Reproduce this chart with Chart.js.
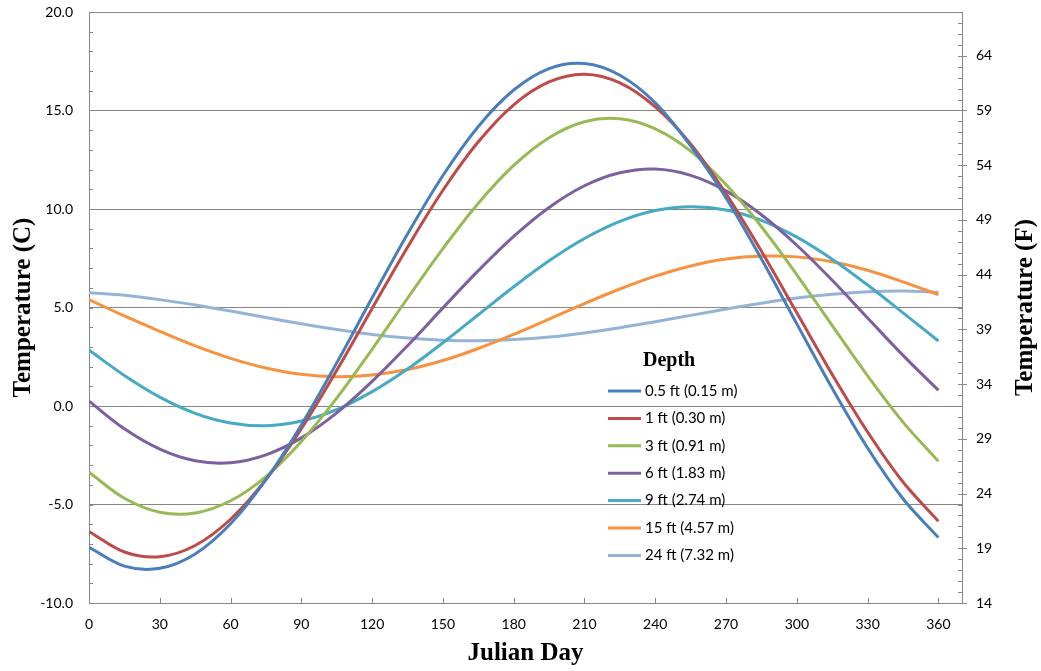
<!DOCTYPE html>
<html>
<head>
<meta charset="utf-8">
<script src="https://cdn.jsdelivr.net/npm/chart.js@4"></script>
<style>
  html, body { margin: 0; padding: 0; background: #fff; }
  #wrap { width: 1041px; height: 671px; }
</style>
</head>
<body>
<div id="wrap"><canvas id="soilChart" width="1041" height="671"></canvas></div>
<script>
// Julian day sample points
const days = [0, 15, 30, 45, 60, 75, 90, 105, 120, 135, 150, 165, 180, 195, 210, 225, 240, 255, 270, 285, 300, 315, 330, 345, 360];

// temperature (C), per depth
const depth05 = [-7.17, -8.13, -8.24, -7.51, -5.98, -3.74, -0.96, 2.19, 5.49, 8.73, 11.70, 14.19, 16.04, 17.13, 17.38, 16.79, 15.39, 13.20, 10.56, 7.46, 4.17, 0.90, -2.13, -4.71, -6.68];
const depth1 = [-6.37, -7.41, -7.65, -7.08, -5.75, -3.73, -1.15, 1.81, 4.95, 8.06, 10.95, 13.41, 15.29, 16.45, 16.84, 16.40, 15.18, 13.30, 10.77, 7.86, 4.73, 1.60, -1.32, -3.86, -5.85];
const depth3 = [-3.36, -4.68, -5.39, -5.43, -4.81, -3.58, -1.80, 0.40, 2.88, 5.47, 7.99, 10.29, 12.21, 13.62, 14.43, 14.58, 14.07, 12.94, 11.24, 9.10, 6.66, 4.08, 1.53, -0.82, -2.81];
const depth6 = [0.25, -1.16, -2.19, -2.78, -2.88, -2.48, -1.62, -0.35, 1.25, 3.06, 4.98, 6.87, 8.61, 10.08, 11.18, 11.84, 12.03, 11.71, 10.92, 9.71, 8.16, 6.38, 4.47, 2.57, 0.80];
const depth9 = [2.84, 1.55, 0.45, -0.37, -0.86, -1.00, -0.76, -0.18, 0.73, 1.88, 3.21, 4.63, 6.05, 7.37, 8.50, 9.37, 9.92, 10.12, 9.95, 9.42, 8.57, 7.45, 6.14, 4.73, 3.30];
const depth15 = [5.40, 4.57, 3.79, 3.05, 2.42, 1.93, 1.61, 1.49, 1.57, 1.85, 2.31, 2.92, 3.63, 4.41, 5.20, 5.94, 6.59, 7.11, 7.46, 7.61, 7.57, 7.32, 6.89, 6.30, 5.65];
const depth24 = [5.75, 5.62, 5.40, 5.13, 4.82, 4.49, 4.17, 3.88, 3.63, 3.45, 3.34, 3.31, 3.37, 3.50, 3.71, 3.97, 4.28, 4.60, 4.92, 5.22, 5.48, 5.67, 5.80, 5.84, 5.78];

const labels = ["0.5 ft (0.15 m)", "1 ft (0.30 m)", "3 ft (0.91 m)", "6 ft (1.83 m)", "9 ft (2.74 m)", "15 ft (4.57 m)", "24 ft (7.32 m)"];
const colors = ["#4A7EBB", "#BE4B48", "#98B954", "#7D60A0", "#46AAC5", "#F69240", "#95B3D7"];
const series = [depth05, depth1, depth3, depth6, depth9, depth15, depth24];

// tick labels of the right (F) axis
const fTicks = [14, 19, 24, 29, 34, 39, 44, 49, 54, 59, 64];

const tickFont = { family: "Lato, 'Open Sans', sans-serif", size: 14 };
const titleFont = { family: "'Liberation Serif', 'DejaVu Serif', serif", size: 25, weight: "bold" };
const axisGray = "#868686";
const clear = "rgba(0,0,0,0)";

const data = {
  datasets: series.map((vals, i) => ({
    label: labels[i],
    data: vals.map((v, j) => ({ x: days[j], y: v })),
    borderColor: colors[i],
    backgroundColor: colors[i],
    borderWidth: 3,
    pointRadius: 0,
    tension: 0.35,
    fill: false,
    yAxisID: "y",
  })),
};

// small tick marks, the right F title and the legend box inside the plot
const extras = {
  id: "extras",
  afterDraw(chart) {
    const ctx = chart.ctx;
    const x = chart.scales.x, y = chart.scales.y, yF = chart.scales.yF;
    const area = chart.chartArea;
    ctx.save();
    ctx.strokeStyle = axisGray;
    ctx.lineWidth = 1;
    ctx.beginPath();
    // left minor ticks every 1 C, inside
    for (let c = -10; c <= 20; c++) {
      const py = Math.round(y.getPixelForValue(c)) + 0.5;
      ctx.moveTo(area.left, py);
      ctx.lineTo(area.left + 4, py);
    }
    // x ticks, inside
    for (let d = 30; d <= 360; d += 30) {
      const px = Math.round(x.getPixelForValue(d)) + 0.5;
      ctx.moveTo(px, area.bottom);
      ctx.lineTo(px, area.bottom - 5);
    }
    // right minor ticks every 1 F inside, majors outside
    for (let f = 14; f <= 68; f++) {
      const py = Math.round(yF.getPixelForValue(f)) + 0.5;
      ctx.moveTo(area.right - 4, py);
      ctx.lineTo(area.right, py);
      if (fTicks.includes(f)) {
        ctx.moveTo(area.right, py);
        ctx.lineTo(area.right + 5, py);
      }
    }
    ctx.stroke();

    // right axis title, reads bottom to top like the left one
    ctx.fillStyle = "#000";
    ctx.font = "bold 25px 'Liberation Serif', serif";
    ctx.textAlign = "center";
    ctx.textBaseline = "middle";
    ctx.translate(1026, (area.top + area.bottom) / 2);
    ctx.rotate(-Math.PI / 2);
    ctx.fillText("Temperature (F)", 0, 0);
    ctx.restore();

    // legend
    ctx.save();
    ctx.fillStyle = "#000";
    ctx.font = "bold 20px 'Liberation Serif', serif";
    ctx.textAlign = "left";
    ctx.textBaseline = "middle";
    ctx.fillText("Depth", 643, 361);
    ctx.font = "15px Lato, 'Open Sans', sans-serif";
    chart.data.datasets.forEach((ds, i) => {
      const ly = 391 + i * 27.4;
      ctx.strokeStyle = ds.borderColor;
      ctx.lineWidth = 3;
      ctx.beginPath();
      ctx.moveTo(608, ly);
      ctx.lineTo(641, ly);
      ctx.stroke();
      ctx.fillText(ds.label, 645, ly);
    });
    ctx.restore();
  },
};

const config = {
  type: "line",
  data: data,
  options: {
    responsive: false,
    animation: false,
    layout: { padding: { top: 12, left: 0, right: 0, bottom: 0 } },
    plugins: {
      legend: { display: false },
      tooltip: { enabled: false },
    },
    scales: {
      x: {
        type: "linear",
        min: 0,
        max: 370,
        ticks: { stepSize: 30, includeBounds: false, padding: 0, color: "#000", font: tickFont, maxRotation: 0 },
        grid: { drawOnChartArea: false, drawTicks: true, tickLength: 13, tickColor: clear },
        border: { display: true, color: axisGray, width: 1 },
        title: { display: true, text: "Julian Day", color: "#000", font: titleFont, padding: { top: 0, bottom: 2 } },
        afterFit: (s) => { s.height = 68; },
      },
      y: {
        position: "left",
        min: -10,
        max: 20,
        ticks: { stepSize: 5, padding: 0, color: "#000", font: tickFont, callback: (v) => v.toFixed(1) },
        grid: { color: axisGray, lineWidth: 1, drawTicks: true, tickLength: 16, tickColor: clear },
        border: { display: true, color: axisGray, width: 1 },
        title: { display: true, text: "Temperature (C)", color: "#000", font: titleFont, padding: { top: 9, bottom: 0 } },
        afterFit: (s) => { s.width = 89; },
      },
      yF: {
        position: "right",
        min: 14,
        max: 68,
        afterBuildTicks: (s) => { s.ticks = fTicks.map((v) => ({ value: v })); },
        ticks: { padding: 0, color: "#000", font: tickFont },
        grid: { drawOnChartArea: false, drawTicks: true, tickLength: 14, tickColor: clear },
        border: { display: true, color: axisGray, width: 1 },
        afterFit: (s) => { s.width = 79; },
      },
    },
  },
  plugins: [extras],
};

const ctx = document.getElementById("soilChart").getContext("2d");
const soilChart = new Chart(ctx, config);
</script>
</body>
</html>
